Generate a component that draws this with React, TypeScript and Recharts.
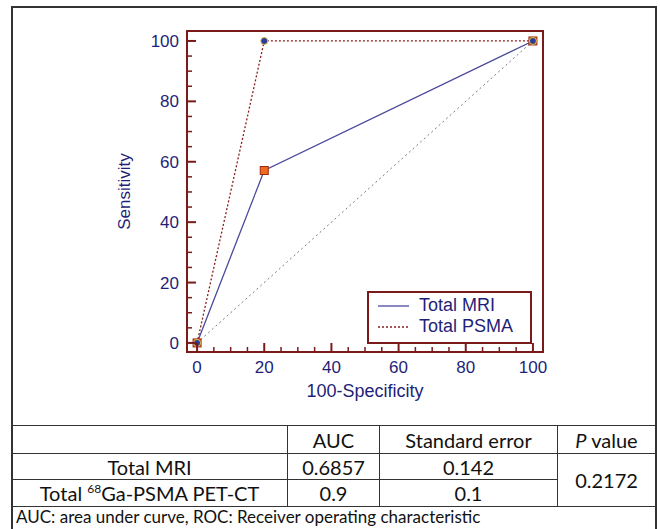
import React from "react";
import { LineChart, Line, XAxis, YAxis, ReferenceArea, Legend } from "recharts";

// ROC points (100-specificity vs sensitivity)
const mriFpr = [0, 20, 100];
const mriTpr = [0, 57.1, 100];
const psmaFpr = [0, 20, 100];
const psmaTpr = [0, 100, 100];
const chanceFpr = [0, 100];
const chanceTpr = [0, 100];

const axisTicks = [0, 5, 10, 15, 20, 25, 30, 35, 40, 45, 50, 55, 60, 65, 70, 75, 80, 85, 90, 95, 100];
const labelledTicks = [0, 20, 40, 60, 80, 100];

const tableHead = ["", "AUC", "Standard error", "value"];
const rowNames = ["Total MRI", "Total PSMA PET-CT"];
const aucValues = ["0.6857", "0.9"];
const seValues = ["0.142", "0.1"];
const pValue = "0.2172";
const footnote = "AUC: area under curve, ROC: Receiver operating characteristic";

const AXIS = "#7a1a1a";
const LABEL = "#1f1f78";
const MRI = "#4a4a9c";
const PSMA = "#8a1c1c";
const FONT = "'Liberation Sans', Arial, sans-serif";
const TABLE_FONT = "Lato, 'Noto Sans', sans-serif";

const mriData = mriFpr.map((x, i) => ({ fpr: x, tpr: mriTpr[i] }));
const psmaData = psmaFpr.map((x, i) => ({ fpr: x, tpr: psmaTpr[i] }));
const chanceData = chanceFpr.map((x, i) => ({ fpr: x, tpr: chanceTpr[i] }));

function YTick({ x, y, payload }: any) {
  const major = labelledTicks.includes(payload.value);
  return (
    <g>
      <line x1={x} x2={x + (major ? 9 : 5)} y1={y} y2={y} stroke={AXIS} strokeWidth={major ? 2 : 1.5} />
      {major && (
        <text x={x - 8} y={y + 6} textAnchor="end" fill={LABEL} fontSize={17} fontFamily={FONT}>
          {payload.value}
        </text>
      )}
    </g>
  );
}

function XTick({ x, y, payload }: any) {
  const major = labelledTicks.includes(payload.value);
  return (
    <g>
      <line x1={x} x2={x} y1={y} y2={y - (major ? 9 : 5)} stroke={AXIS} strokeWidth={major ? 2 : 1.5} />
      {major && (
        <text x={x} y={y + 21} textAnchor="middle" fill={LABEL} fontSize={17} fontFamily={FONT}>
          {payload.value}
        </text>
      )}
    </g>
  );
}

function SquareDot({ cx, cy }: any) {
  if (cx == null || cy == null) return null;
  return <rect x={cx - 4} y={cy - 4} width={8} height={8} fill="#f26a22" stroke="#9a2a10" strokeWidth={1} />;
}

function RoundDot({ cx, cy }: any) {
  if (cx == null || cy == null) return null;
  return <circle cx={cx} cy={cy} r={3.5} fill="#2a3c9a" stroke="#e2c24a" strokeWidth={1} />;
}

function LegendBox({ payload }: any) {
  const items = (payload || []).filter((p: any) => p.type !== "none");
  return (
    <div style={{ border: `2px solid ${AXIS}`, background: "#fff", width: 161, height: 47, boxSizing: "content-box", paddingTop: 2 }}>
      {items.map((p: any) => (
        <div key={p.value} style={{ display: "flex", alignItems: "center", height: 21 }}>
          <svg width={44} height={10}>
            <line x1={9} x2={40} y1={5} y2={5} stroke={p.color} strokeWidth={1.3}
              strokeDasharray={p.payload?.strokeDasharray} />
          </svg>
          <span style={{ color: LABEL, fontSize: 18, fontFamily: FONT, marginLeft: 6 }}>{p.value}</span>
        </div>
      ))}
    </div>
  );
}

const cell: React.CSSProperties = {
  border: "1.5px solid #333",
  padding: 0,
  textAlign: "center",
  fontSize: 20,
  color: "#111",
  fontFamily: TABLE_FONT,
};

export default function App() {
  return (
    <div style={{ position: "absolute", left: 0, top: 0, width: 660, height: 529, overflow: "hidden", background: "#fff" }}>
      <div style={{ position: "absolute", left: 11, top: 6, width: 642, height: 540, border: "2px solid #333" }} />
      <div style={{ position: "absolute", left: 0, top: 0 }}>
        <LineChart width={660} height={425} margin={{ top: 31, right: 117, bottom: 23, left: 127 }}>
          <XAxis
            dataKey="fpr"
            type="number"
            domain={[-3, 103]}
            ticks={axisTicks}
            interval={0}
            allowDataOverflow
            axisLine={false}
            tickLine={false}
            tickSize={0}
            tickMargin={0}
            height={50}
            tick={<XTick />}
            label={({ viewBox }: any) => (
              <text x={viewBox.x + viewBox.width / 2} y={viewBox.y + 45} textAnchor="middle" fill={LABEL} fontSize={18} fontFamily={FONT}>
                100-Specificity
              </text>
            )}
          />
          <YAxis
            dataKey="tpr"
            type="number"
            domain={[-3, 103.3]}
            ticks={axisTicks}
            interval={0}
            allowDataOverflow
            axisLine={false}
            tickLine={false}
            tickSize={0}
            tickMargin={0}
            width={60}
            tick={<YTick />}
            label={({ viewBox }: any) => {
              const cx = viewBox.x - 3;
              const cy = viewBox.y + viewBox.height / 2;
              return (
                <text x={cx} y={cy} transform={`rotate(-90 ${cx} ${cy})`} textAnchor="middle" dominantBaseline="central" fill={LABEL} fontSize={17} fontFamily={FONT}>
                  Sensitivity
                </text>
              );
            }}
          />
          <ReferenceArea x1={-3} x2={103} y1={-3} y2={103.3} fill="none" stroke={AXIS} strokeWidth={2} ifOverflow="visible" />
          <Line data={chanceData} dataKey="tpr" name="chance" stroke="#7a7a8a" strokeWidth={1} strokeDasharray="2 3" dot={false} legendType="none" isAnimationActive={false} />
          <Line data={mriData} dataKey="tpr" name="Total MRI" stroke={MRI} strokeWidth={1.3} dot={<SquareDot />} isAnimationActive={false} />
          <Line data={psmaData} dataKey="tpr" name="Total PSMA" stroke={PSMA} strokeWidth={1.3} strokeDasharray="2 2" dot={<RoundDot />} isAnimationActive={false} />
          <Legend
            layout="vertical"
            align="center"
            verticalAlign="middle"
            content={<LegendBox />}
            wrapperStyle={{ position: "absolute", left: 367, top: 291, width: 165 }}
          />
        </LineChart>
      </div>
      <table style={{ position: "absolute", left: 11, top: 425, width: 644, borderCollapse: "collapse", tableLayout: "fixed" }}>
        <colgroup>
          <col style={{ width: 276 }} />
          <col style={{ width: 92 }} />
          <col style={{ width: 178 }} />
          <col style={{ width: 98 }} />
        </colgroup>
        <tbody>
          <tr style={{ height: 28 }}>
            <td style={cell}>{tableHead[0]}</td>
            <td style={cell}>{tableHead[1]}</td>
            <td style={cell}>{tableHead[2]}</td>
            <td style={cell}><i>P</i> {tableHead[3]}</td>
          </tr>
          <tr style={{ height: 26 }}>
            <td style={cell}>{rowNames[0]}</td>
            <td style={cell}>{aucValues[0]}</td>
            <td style={cell}>{seValues[0]}</td>
            <td style={cell} rowSpan={2}>{pValue}</td>
          </tr>
          <tr style={{ height: 27 }}>
            <td style={cell}>Total <sup style={{ fontSize: 12 }}>68</sup>Ga-PSMA PET-CT</td>
            <td style={cell}>{aucValues[1]}</td>
            <td style={cell}>{seValues[1]}</td>
          </tr>
          <tr style={{ height: 22 }}>
            <td style={{ ...cell, textAlign: "left", paddingLeft: 4, verticalAlign: "top", fontSize: 17, lineHeight: "20px", borderBottom: "none" }} colSpan={4}>{footnote}</td>
          </tr>
        </tbody>
      </table>
    </div>
  );
}
